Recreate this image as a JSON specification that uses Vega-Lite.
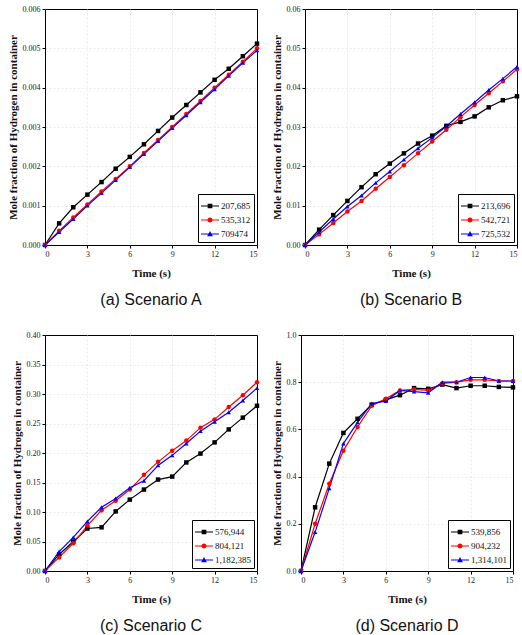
{
  "$schema": "https://vega.github.io/schema/vega-lite/v6.json",
  "padding": {"left": 6, "top": 4, "right": 4, "bottom": 0},
  "background": "white",
  "spacing": 21,
  "config": {
    "view": {"stroke": "black", "strokeWidth": 1},
    "axis": {
      "labelFont": "Liberation Serif", "labelFontSize": 8, "labelColor": "#222",
      "titleFont": "Liberation Serif", "titleFontSize": 11, "titleFontWeight": "bold", "titleColor": "#111",
      "domainColor": "black", "tickColor": "black", "tickSize": 3,
      "gridColor": "#e4e4e4", "gridDash": [2, 2], "gridWidth": 0.8
    },
    "axisX": {"titlePadding": 9},
    "legend": {
      "orient": "bottom-right", "offset": 3, "strokeColor": "black", "fillColor": "white",
      "padding": 3, "labelFont": "Liberation Serif", "labelFontSize": 9, "labelColor": "#111",
      "symbolSize": 324, "symbolStrokeWidth": 0, "rowPadding": 0, "labelOffset": 2, "title": null
    },
    "title": {"font": "Liberation Sans", "fontSize": 16, "fontWeight": "normal", "color": "#111", "orient": "bottom", "anchor": "middle", "offset": 14},
    "concat": {"spacing": 10}
  },
  "data": {"values": [
    {"p":"A","s":"207,685","t":0,"y":0},{"p":"A","s":"207,685","t":1,"y":0.00055},{"p":"A","s":"207,685","t":2,"y":0.00096},{"p":"A","s":"207,685","t":3,"y":0.00128},{"p":"A","s":"207,685","t":4,"y":0.0016},{"p":"A","s":"207,685","t":5,"y":0.00194},{"p":"A","s":"207,685","t":6,"y":0.00224},{"p":"A","s":"207,685","t":7,"y":0.00256},{"p":"A","s":"207,685","t":8,"y":0.0029},{"p":"A","s":"207,685","t":9,"y":0.00324},{"p":"A","s":"207,685","t":10,"y":0.00356},{"p":"A","s":"207,685","t":11,"y":0.00388},{"p":"A","s":"207,685","t":12,"y":0.0042},{"p":"A","s":"207,685","t":13,"y":0.00448},{"p":"A","s":"207,685","t":14,"y":0.0048},{"p":"A","s":"207,685","t":15,"y":0.00512},
    {"p":"A","s":"535,312","t":0,"y":0},{"p":"A","s":"535,312","t":1,"y":0.00036},{"p":"A","s":"535,312","t":2,"y":0.0007},{"p":"A","s":"535,312","t":3,"y":0.00103},{"p":"A","s":"535,312","t":4,"y":0.00136},{"p":"A","s":"535,312","t":5,"y":0.00168},{"p":"A","s":"535,312","t":6,"y":0.002},{"p":"A","s":"535,312","t":7,"y":0.00234},{"p":"A","s":"535,312","t":8,"y":0.00267},{"p":"A","s":"535,312","t":9,"y":0.003},{"p":"A","s":"535,312","t":10,"y":0.00333},{"p":"A","s":"535,312","t":11,"y":0.00366},{"p":"A","s":"535,312","t":12,"y":0.004},{"p":"A","s":"535,312","t":13,"y":0.00433},{"p":"A","s":"535,312","t":14,"y":0.00466},{"p":"A","s":"535,312","t":15,"y":0.005},
    {"p":"A","s":"709474","t":0,"y":0},{"p":"A","s":"709474","t":1,"y":0.00033},{"p":"A","s":"709474","t":2,"y":0.00066},{"p":"A","s":"709474","t":3,"y":0.001},{"p":"A","s":"709474","t":4,"y":0.00132},{"p":"A","s":"709474","t":5,"y":0.00165},{"p":"A","s":"709474","t":6,"y":0.00198},{"p":"A","s":"709474","t":7,"y":0.00231},{"p":"A","s":"709474","t":8,"y":0.00264},{"p":"A","s":"709474","t":9,"y":0.00297},{"p":"A","s":"709474","t":10,"y":0.0033},{"p":"A","s":"709474","t":11,"y":0.00363},{"p":"A","s":"709474","t":12,"y":0.00396},{"p":"A","s":"709474","t":13,"y":0.0043},{"p":"A","s":"709474","t":14,"y":0.00463},{"p":"A","s":"709474","t":15,"y":0.00495},
    {"p":"B","s":"213,696","t":0,"y":0},{"p":"B","s":"213,696","t":1,"y":0.0039},{"p":"B","s":"213,696","t":2,"y":0.0076},{"p":"B","s":"213,696","t":3,"y":0.0112},{"p":"B","s":"213,696","t":4,"y":0.0147},{"p":"B","s":"213,696","t":5,"y":0.018},{"p":"B","s":"213,696","t":6,"y":0.0207},{"p":"B","s":"213,696","t":7,"y":0.0233},{"p":"B","s":"213,696","t":8,"y":0.0258},{"p":"B","s":"213,696","t":9,"y":0.0278},{"p":"B","s":"213,696","t":10,"y":0.0303},{"p":"B","s":"213,696","t":11,"y":0.0313},{"p":"B","s":"213,696","t":12,"y":0.0327},{"p":"B","s":"213,696","t":13,"y":0.035},{"p":"B","s":"213,696","t":14,"y":0.0368},{"p":"B","s":"213,696","t":15,"y":0.0378},
    {"p":"B","s":"542,721","t":0,"y":0},{"p":"B","s":"542,721","t":1,"y":0.0027},{"p":"B","s":"542,721","t":2,"y":0.0056},{"p":"B","s":"542,721","t":3,"y":0.0085},{"p":"B","s":"542,721","t":4,"y":0.0112},{"p":"B","s":"542,721","t":5,"y":0.0143},{"p":"B","s":"542,721","t":6,"y":0.0173},{"p":"B","s":"542,721","t":7,"y":0.0203},{"p":"B","s":"542,721","t":8,"y":0.0233},{"p":"B","s":"542,721","t":9,"y":0.0263},{"p":"B","s":"542,721","t":10,"y":0.0293},{"p":"B","s":"542,721","t":11,"y":0.0325},{"p":"B","s":"542,721","t":12,"y":0.0356},{"p":"B","s":"542,721","t":13,"y":0.0386},{"p":"B","s":"542,721","t":14,"y":0.0416},{"p":"B","s":"542,721","t":15,"y":0.0447},
    {"p":"B","s":"725,532","t":0,"y":0},{"p":"B","s":"725,532","t":1,"y":0.0033},{"p":"B","s":"725,532","t":2,"y":0.0066},{"p":"B","s":"725,532","t":3,"y":0.0098},{"p":"B","s":"725,532","t":4,"y":0.0126},{"p":"B","s":"725,532","t":5,"y":0.0158},{"p":"B","s":"725,532","t":6,"y":0.0187},{"p":"B","s":"725,532","t":7,"y":0.0217},{"p":"B","s":"725,532","t":8,"y":0.0246},{"p":"B","s":"725,532","t":9,"y":0.0273},{"p":"B","s":"725,532","t":10,"y":0.0302},{"p":"B","s":"725,532","t":11,"y":0.0333},{"p":"B","s":"725,532","t":12,"y":0.0363},{"p":"B","s":"725,532","t":13,"y":0.0394},{"p":"B","s":"725,532","t":14,"y":0.0423},{"p":"B","s":"725,532","t":15,"y":0.0453},
    {"p":"C","s":"576,944","t":0,"y":0},{"p":"C","s":"576,944","t":1,"y":0.028},{"p":"C","s":"576,944","t":2,"y":0.05},{"p":"C","s":"576,944","t":3,"y":0.072},{"p":"C","s":"576,944","t":4,"y":0.074},{"p":"C","s":"576,944","t":5,"y":0.101},{"p":"C","s":"576,944","t":6,"y":0.121},{"p":"C","s":"576,944","t":7,"y":0.138},{"p":"C","s":"576,944","t":8,"y":0.155},{"p":"C","s":"576,944","t":9,"y":0.16},{"p":"C","s":"576,944","t":10,"y":0.184},{"p":"C","s":"576,944","t":11,"y":0.199},{"p":"C","s":"576,944","t":12,"y":0.218},{"p":"C","s":"576,944","t":13,"y":0.24},{"p":"C","s":"576,944","t":14,"y":0.26},{"p":"C","s":"576,944","t":15,"y":0.28},
    {"p":"C","s":"804,121","t":0,"y":0},{"p":"C","s":"804,121","t":1,"y":0.023},{"p":"C","s":"804,121","t":2,"y":0.047},{"p":"C","s":"804,121","t":3,"y":0.077},{"p":"C","s":"804,121","t":4,"y":0.103},{"p":"C","s":"804,121","t":5,"y":0.119},{"p":"C","s":"804,121","t":6,"y":0.138},{"p":"C","s":"804,121","t":7,"y":0.163},{"p":"C","s":"804,121","t":8,"y":0.185},{"p":"C","s":"804,121","t":9,"y":0.204},{"p":"C","s":"804,121","t":10,"y":0.221},{"p":"C","s":"804,121","t":11,"y":0.243},{"p":"C","s":"804,121","t":12,"y":0.257},{"p":"C","s":"804,121","t":13,"y":0.278},{"p":"C","s":"804,121","t":14,"y":0.298},{"p":"C","s":"804,121","t":15,"y":0.32},
    {"p":"C","s":"1,182,385","t":0,"y":0},{"p":"C","s":"1,182,385","t":1,"y":0.033},{"p":"C","s":"1,182,385","t":2,"y":0.057},{"p":"C","s":"1,182,385","t":3,"y":0.084},{"p":"C","s":"1,182,385","t":4,"y":0.108},{"p":"C","s":"1,182,385","t":5,"y":0.123},{"p":"C","s":"1,182,385","t":6,"y":0.141},{"p":"C","s":"1,182,385","t":7,"y":0.153},{"p":"C","s":"1,182,385","t":8,"y":0.179},{"p":"C","s":"1,182,385","t":9,"y":0.196},{"p":"C","s":"1,182,385","t":10,"y":0.216},{"p":"C","s":"1,182,385","t":11,"y":0.237},{"p":"C","s":"1,182,385","t":12,"y":0.253},{"p":"C","s":"1,182,385","t":13,"y":0.269},{"p":"C","s":"1,182,385","t":14,"y":0.289},{"p":"C","s":"1,182,385","t":15,"y":0.31},
    {"p":"D","s":"539,856","t":0,"y":0},{"p":"D","s":"539,856","t":1,"y":0.27},{"p":"D","s":"539,856","t":2,"y":0.455},{"p":"D","s":"539,856","t":3,"y":0.585},{"p":"D","s":"539,856","t":4,"y":0.645},{"p":"D","s":"539,856","t":5,"y":0.705},{"p":"D","s":"539,856","t":6,"y":0.725},{"p":"D","s":"539,856","t":7,"y":0.745},{"p":"D","s":"539,856","t":8,"y":0.775},{"p":"D","s":"539,856","t":9,"y":0.772},{"p":"D","s":"539,856","t":10,"y":0.79},{"p":"D","s":"539,856","t":11,"y":0.775},{"p":"D","s":"539,856","t":12,"y":0.785},{"p":"D","s":"539,856","t":13,"y":0.785},{"p":"D","s":"539,856","t":14,"y":0.78},{"p":"D","s":"539,856","t":15,"y":0.778},
    {"p":"D","s":"904,232","t":0,"y":0},{"p":"D","s":"904,232","t":1,"y":0.2},{"p":"D","s":"904,232","t":2,"y":0.37},{"p":"D","s":"904,232","t":3,"y":0.51},{"p":"D","s":"904,232","t":4,"y":0.61},{"p":"D","s":"904,232","t":5,"y":0.7},{"p":"D","s":"904,232","t":6,"y":0.73},{"p":"D","s":"904,232","t":7,"y":0.765},{"p":"D","s":"904,232","t":8,"y":0.77},{"p":"D","s":"904,232","t":9,"y":0.765},{"p":"D","s":"904,232","t":10,"y":0.795},{"p":"D","s":"904,232","t":11,"y":0.8},{"p":"D","s":"904,232","t":12,"y":0.81},{"p":"D","s":"904,232","t":13,"y":0.81},{"p":"D","s":"904,232","t":14,"y":0.805},{"p":"D","s":"904,232","t":15,"y":0.805},
    {"p":"D","s":"1,314,101","t":0,"y":0},{"p":"D","s":"1,314,101","t":1,"y":0.165},{"p":"D","s":"1,314,101","t":2,"y":0.35},{"p":"D","s":"1,314,101","t":3,"y":0.54},{"p":"D","s":"1,314,101","t":4,"y":0.63},{"p":"D","s":"1,314,101","t":5,"y":0.71},{"p":"D","s":"1,314,101","t":6,"y":0.72},{"p":"D","s":"1,314,101","t":7,"y":0.765},{"p":"D","s":"1,314,101","t":8,"y":0.76},{"p":"D","s":"1,314,101","t":9,"y":0.755},{"p":"D","s":"1,314,101","t":10,"y":0.8},{"p":"D","s":"1,314,101","t":11,"y":0.8},{"p":"D","s":"1,314,101","t":12,"y":0.82},{"p":"D","s":"1,314,101","t":13,"y":0.82},{"p":"D","s":"1,314,101","t":14,"y":0.805},{"p":"D","s":"1,314,101","t":15,"y":0.805}
  ]},
  "resolve": {"scale": {"color": "independent", "shape": "independent", "y": "independent"}, "legend": {"color": "independent", "shape": "independent"}},
  "vconcat": [
    {
      "resolve": {"scale": {"color": "independent", "shape": "independent", "y": "independent"}, "legend": {"color": "independent", "shape": "independent"}},
      "hconcat": [
        {
          "width": 212, "height": 236,
          "title": "(a) Scenario A",
          "transform": [{"filter": "datum.p === 'A'"}],
          "encoding": {
            "x": {"field": "t", "type": "quantitative", "title": "Time (s)", "scale": {"domain": [0, 15], "nice": false}, "axis": {"values": [0, 3, 6, 9, 12, 15], "gridOpacity": {"condition": {"test": "datum.value >= 15", "value": 0}, "value": 1}}},
            "y": {"field": "y", "type": "quantitative", "title": "Mole fraction of Hydrogen in container", "scale": {"domain": [0, 0.006], "nice": false}, "axis": {"values": [0, 0.001, 0.002, 0.003, 0.004, 0.005, 0.006], "format": ".3f", "gridOpacity": {"condition": {"test": "datum.value >= 0.006", "value": 0}, "value": 1}}}
          },
          "resolve": {"scale": {"color": "independent", "shape": "independent"}, "legend": {"color": "independent", "shape": "independent"}},
          "layer": [
            {"mark": {"type": "line", "strokeWidth": 1.2}, "encoding": {"color": {"field": "s", "type": "nominal", "legend": null, "scale": {"domain": ["207,685", "535,312", "709474"], "range": ["black", "red", "blue"]}}}},
            {"mark": {"type": "point", "filled": true, "size": 20, "opacity": 1}, "encoding": {
              "color": {"field": "s", "type": "nominal", "legend": null, "scale": {"domain": ["207,685", "535,312", "709474"], "range": ["black", "red", "blue"]}},
              "shape": {"field": "s", "type": "nominal", "legend": null, "scale": {"domain": ["207,685", "535,312", "709474"], "range": ["square", "circle", "triangle-up"]}}}},
            {"transform": [{"filter": "datum.t < 0"}], "mark": {"type": "point", "filled": true, "opacity": 1}, "encoding": {
              "color": {"field": "s", "type": "nominal", "scale": {"domain": ["207,685", "535,312", "709474"], "range": ["black", "red", "blue"]}},
              "shape": {"field": "s", "type": "nominal", "scale": {"domain": ["207,685", "535,312", "709474"], "range": ["M-1,-0.065H1V0.065H-1Z M-0.26,-0.26H0.26V0.26H-0.26Z", "M-1,-0.065H1V0.065H-1Z M0.28,0A0.28,0.28 0 1,1 -0.28,0A0.28,0.28 0 1,1 0.28,0Z", "M-1,-0.065H1V0.065H-1Z M0,-0.32L0.32,0.24L-0.32,0.24Z"]}}}}
          ]
        },
        {
          "width": 212, "height": 236,
          "title": "(b) Scenario B",
          "transform": [{"filter": "datum.p === 'B'"}],
          "encoding": {
            "x": {"field": "t", "type": "quantitative", "title": "Time (s)", "scale": {"domain": [0, 15], "nice": false}, "axis": {"values": [0, 3, 6, 9, 12, 15], "gridOpacity": {"condition": {"test": "datum.value >= 15", "value": 0}, "value": 1}}},
            "y": {"field": "y", "type": "quantitative", "title": "Mole fraction of Hydrogen in container", "scale": {"domain": [0, 0.06], "nice": false}, "axis": {"values": [0, 0.01, 0.02, 0.03, 0.04, 0.05, 0.06], "format": ".2f", "gridOpacity": {"condition": {"test": "datum.value >= 0.06", "value": 0}, "value": 1}}}
          },
          "resolve": {"scale": {"color": "independent", "shape": "independent"}, "legend": {"color": "independent", "shape": "independent"}},
          "layer": [
            {"mark": {"type": "line", "strokeWidth": 1.2}, "encoding": {"color": {"field": "s", "type": "nominal", "legend": null, "scale": {"domain": ["213,696", "542,721", "725,532"], "range": ["black", "red", "blue"]}}}},
            {"mark": {"type": "point", "filled": true, "size": 20, "opacity": 1}, "encoding": {
              "color": {"field": "s", "type": "nominal", "legend": null, "scale": {"domain": ["213,696", "542,721", "725,532"], "range": ["black", "red", "blue"]}},
              "shape": {"field": "s", "type": "nominal", "legend": null, "scale": {"domain": ["213,696", "542,721", "725,532"], "range": ["square", "circle", "triangle-up"]}}}},
            {"transform": [{"filter": "datum.t < 0"}], "mark": {"type": "point", "filled": true, "opacity": 1}, "encoding": {
              "color": {"field": "s", "type": "nominal", "scale": {"domain": ["213,696", "542,721", "725,532"], "range": ["black", "red", "blue"]}},
              "shape": {"field": "s", "type": "nominal", "scale": {"domain": ["213,696", "542,721", "725,532"], "range": ["M-1,-0.065H1V0.065H-1Z M-0.26,-0.26H0.26V0.26H-0.26Z", "M-1,-0.065H1V0.065H-1Z M0.28,0A0.28,0.28 0 1,1 -0.28,0A0.28,0.28 0 1,1 0.28,0Z", "M-1,-0.065H1V0.065H-1Z M0,-0.32L0.32,0.24L-0.32,0.24Z"]}}}}
          ]
        }
      ]
    },
    {
      "resolve": {"scale": {"color": "independent", "shape": "independent", "y": "independent"}, "legend": {"color": "independent", "shape": "independent"}},
      "hconcat": [
        {
          "width": 212, "height": 236,
          "title": "(c) Scenario C",
          "transform": [{"filter": "datum.p === 'C'"}],
          "encoding": {
            "x": {"field": "t", "type": "quantitative", "title": "Time (s)", "scale": {"domain": [0, 15], "nice": false}, "axis": {"values": [0, 3, 6, 9, 12, 15], "gridOpacity": {"condition": {"test": "datum.value >= 15", "value": 0}, "value": 1}}},
            "y": {"field": "y", "type": "quantitative", "title": "Mole fraction of Hydrogen in container", "scale": {"domain": [0, 0.4], "nice": false}, "axis": {"values": [0, 0.05, 0.1, 0.15, 0.2, 0.25, 0.3, 0.35, 0.4], "format": ".2f", "gridOpacity": {"condition": {"test": "datum.value >= 0.4", "value": 0}, "value": 1}}}
          },
          "resolve": {"scale": {"color": "independent", "shape": "independent"}, "legend": {"color": "independent", "shape": "independent"}},
          "layer": [
            {"mark": {"type": "line", "strokeWidth": 1.2}, "encoding": {"color": {"field": "s", "type": "nominal", "legend": null, "scale": {"domain": ["576,944", "804,121", "1,182,385"], "range": ["black", "red", "blue"]}}}},
            {"mark": {"type": "point", "filled": true, "size": 20, "opacity": 1}, "encoding": {
              "color": {"field": "s", "type": "nominal", "legend": null, "scale": {"domain": ["576,944", "804,121", "1,182,385"], "range": ["black", "red", "blue"]}},
              "shape": {"field": "s", "type": "nominal", "legend": null, "scale": {"domain": ["576,944", "804,121", "1,182,385"], "range": ["square", "circle", "triangle-up"]}}}},
            {"transform": [{"filter": "datum.t < 0"}], "mark": {"type": "point", "filled": true, "opacity": 1}, "encoding": {
              "color": {"field": "s", "type": "nominal", "scale": {"domain": ["576,944", "804,121", "1,182,385"], "range": ["black", "red", "blue"]}},
              "shape": {"field": "s", "type": "nominal", "scale": {"domain": ["576,944", "804,121", "1,182,385"], "range": ["M-1,-0.065H1V0.065H-1Z M-0.26,-0.26H0.26V0.26H-0.26Z", "M-1,-0.065H1V0.065H-1Z M0.28,0A0.28,0.28 0 1,1 -0.28,0A0.28,0.28 0 1,1 0.28,0Z", "M-1,-0.065H1V0.065H-1Z M0,-0.32L0.32,0.24L-0.32,0.24Z"]}}}}
          ]
        },
        {
          "width": 212, "height": 236,
          "title": "(d) Scenario D",
          "transform": [{"filter": "datum.p === 'D'"}],
          "encoding": {
            "x": {"field": "t", "type": "quantitative", "title": "Time (s)", "scale": {"domain": [0, 15], "nice": false}, "axis": {"values": [0, 3, 6, 9, 12, 15], "gridOpacity": {"condition": {"test": "datum.value >= 15", "value": 0}, "value": 1}}},
            "y": {"field": "y", "type": "quantitative", "title": "Mole fraction of Hydrogen in container", "scale": {"domain": [0, 1], "nice": false}, "axis": {"values": [0, 0.2, 0.4, 0.6, 0.8, 1.0], "format": ".1f", "gridOpacity": {"condition": {"test": "datum.value >= 1", "value": 0}, "value": 1}}}
          },
          "resolve": {"scale": {"color": "independent", "shape": "independent"}, "legend": {"color": "independent", "shape": "independent"}},
          "layer": [
            {"mark": {"type": "line", "strokeWidth": 1.2}, "encoding": {"color": {"field": "s", "type": "nominal", "legend": null, "scale": {"domain": ["539,856", "904,232", "1,314,101"], "range": ["black", "red", "blue"]}}}},
            {"mark": {"type": "point", "filled": true, "size": 20, "opacity": 1}, "encoding": {
              "color": {"field": "s", "type": "nominal", "legend": null, "scale": {"domain": ["539,856", "904,232", "1,314,101"], "range": ["black", "red", "blue"]}},
              "shape": {"field": "s", "type": "nominal", "legend": null, "scale": {"domain": ["539,856", "904,232", "1,314,101"], "range": ["square", "circle", "triangle-up"]}}}},
            {"transform": [{"filter": "datum.t < 0"}], "mark": {"type": "point", "filled": true, "opacity": 1}, "encoding": {
              "color": {"field": "s", "type": "nominal", "scale": {"domain": ["539,856", "904,232", "1,314,101"], "range": ["black", "red", "blue"]}},
              "shape": {"field": "s", "type": "nominal", "scale": {"domain": ["539,856", "904,232", "1,314,101"], "range": ["M-1,-0.065H1V0.065H-1Z M-0.26,-0.26H0.26V0.26H-0.26Z", "M-1,-0.065H1V0.065H-1Z M0.28,0A0.28,0.28 0 1,1 -0.28,0A0.28,0.28 0 1,1 0.28,0Z", "M-1,-0.065H1V0.065H-1Z M0,-0.32L0.32,0.24L-0.32,0.24Z"]}}}}
          ]
        }
      ]
    }
  ]
}
